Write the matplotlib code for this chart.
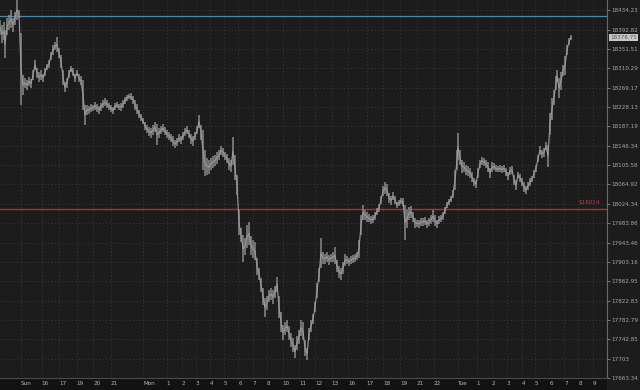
import matplotlib
matplotlib.use("Agg")
import matplotlib.pyplot as plt
from matplotlib.patches import Rectangle
import numpy as np

# ---- data ----
bar_x = [0, 2, 4, 5, 7, 9, 11, 13, 15, 17, 19, 21, 23, 25, 27, 29, 31, 33, 35, 37, 39, 41, 43, 45, 47, 49,
         51, 53, 55, 57, 59, 61, 63, 65, 67, 69, 71, 73, 75, 77, 79, 81, 83, 85, 87, 89, 91, 93, 95, 97, 99,
         101, 103, 105, 107, 109, 111, 113, 115, 117, 119, 121, 123, 125, 127, 129, 131, 133, 135, 137, 139,
         141, 143, 145, 147, 149, 151, 153, 155, 157, 159, 161, 163, 165, 167, 169, 171, 173, 175, 177, 179,
         181, 183, 185, 187, 189, 191, 193, 195, 197, 199, 201, 203, 205, 207, 209, 211, 213, 215, 217, 219,
         221, 223, 225, 227, 229, 231, 233, 235, 237, 239, 241, 243, 245, 247, 249, 251, 253, 255, 257, 259,
         261, 263, 265, 267, 269, 271, 273, 275, 277, 279, 281, 283, 285, 287, 289, 291, 293, 295, 297, 299,
         301, 303, 305, 307, 309, 311, 313, 315, 317, 319, 321, 323, 325, 327, 329, 331, 333, 335, 337, 339,
         341, 343, 345, 347, 349, 351, 353, 355, 357, 359, 361, 363, 365, 367, 369, 371, 373, 375, 377, 379,
         381, 383, 385, 387, 389, 391, 393, 395, 397, 399, 401, 403, 405, 407, 409, 411, 413, 415, 417, 419,
         421, 423, 425, 427, 429, 431, 433, 435, 437, 439, 441, 443, 445, 447, 449, 451, 453, 455, 457, 458,
         460, 462, 464, 466, 468, 470, 472, 474, 476, 478, 480, 482, 484, 486, 488, 490, 492, 494, 496, 498,
         500, 502, 504, 506, 508, 510, 512, 514, 516, 518, 520, 522, 524, 526, 528, 530, 532, 534, 536, 538,
         540, 542, 544, 546, 548, 550, 552, 554, 556, 557, 559, 561, 563, 565, 567, 569, 571]

bar_high = [18414, 18403, 18409, 18392, 18418, 18424, 18435, 18418, 18431, 18456, 18435, 18386, 18296, 18290,
            18285, 18292, 18287, 18307, 18328, 18311, 18303, 18307, 18298, 18311, 18320, 18328, 18345, 18360,
            18366, 18377, 18354, 18339, 18307, 18281, 18290, 18307, 18315, 18311, 18298, 18307, 18298, 18294,
            18285, 18233, 18233, 18230, 18235, 18233, 18239, 18235, 18230, 18237, 18243, 18247, 18243, 18237,
            18233, 18228, 18237, 18239, 18235, 18237, 18243, 18249, 18254, 18256, 18258, 18252, 18243, 18235,
            18222, 18214, 18205, 18197, 18190, 18186, 18184, 18190, 18197, 18192, 18184, 18188, 18192, 18186,
            18180, 18175, 18171, 18167, 18159, 18163, 18171, 18167, 18175, 18184, 18188, 18180, 18171, 18167,
            18175, 18188, 18211, 18190, 18180, 18137, 18121, 18116, 18121, 18125, 18127, 18133, 18137, 18146,
            18142, 18133, 18129, 18121, 18116, 18165, 18127, 18085, 18011, 17974, 17959, 17953, 17980, 17986,
            17957, 17949, 17945, 17911, 17891, 17870, 17849, 17828, 17832, 17845, 17849, 17845, 17853, 17872,
            17832, 17799, 17772, 17779, 17783, 17770, 17756, 17746, 17731, 17750, 17762, 17783, 17779, 17741,
            17725, 17766, 17783, 17795, 17820, 17859, 17891, 17953, 17924, 17920, 17924, 17918, 17920, 17924,
            17934, 17907, 17895, 17891, 17903, 17920, 17915, 17911, 17915, 17918, 17920, 17924, 17949, 18001,
            18022, 18011, 18007, 18003, 17999, 18001, 18007, 18016, 18024, 18041, 18062, 18070, 18066, 18047,
            18041, 18049, 18041, 18028, 18032, 18037, 18037, 18022, 18011, 18018, 18020, 18007, 17995, 17991,
            17991, 17995, 17995, 17997, 17991, 17995, 18001, 18011, 18001, 17991, 17999, 18001, 18007, 18018,
            18028, 18035, 18041, 18053, 18095, 18137, 18173, 18137, 18116, 18112, 18106, 18104, 18100, 18091,
            18078, 18074, 18100, 18116, 18123, 18121, 18116, 18112, 18100, 18112, 18110, 18106, 18104, 18106,
            18104, 18106, 18100, 18091, 18102, 18104, 18085, 18074, 18091, 18087, 18078, 18070, 18062, 18070,
            18078, 18083, 18095, 18106, 18127, 18146, 18137, 18142, 18154, 18148, 18216, 18247, 18264, 18294,
            18307, 18290, 18303, 18317, 18337, 18360, 18375, 18381]

bar_low = [18381, 18364, 18371, 18332, 18381, 18392, 18396, 18388, 18403, 18414, 18418, 18233, 18254, 18269,
           18264, 18273, 18269, 18285, 18307, 18290, 18281, 18285, 18281, 18294, 18307, 18311, 18328, 18339,
           18349, 18345, 18332, 18311, 18275, 18260, 18269, 18290, 18303, 18294, 18281, 18294, 18281, 18275,
           18222, 18190, 18211, 18214, 18218, 18220, 18222, 18218, 18214, 18220, 18226, 18230, 18226, 18222,
           18218, 18214, 18222, 18226, 18222, 18220, 18226, 18235, 18241, 18245, 18243, 18235, 18222, 18214,
           18205, 18199, 18192, 18180, 18173, 18167, 18163, 18169, 18175, 18148, 18163, 18171, 18175, 18169,
           18163, 18159, 18154, 18146, 18142, 18146, 18154, 18150, 18159, 18167, 18171, 18163, 18150, 18146,
           18159, 18171, 18184, 18159, 18095, 18083, 18085, 18087, 18095, 18100, 18104, 18108, 18116, 18127,
           18123, 18116, 18110, 18095, 18091, 18106, 18074, 18043, 17959, 17945, 17903, 17918, 17932, 17938,
           17918, 17911, 17907, 17876, 17866, 17841, 17814, 17789, 17803, 17820, 17824, 17816, 17828, 17841,
           17787, 17758, 17741, 17752, 17758, 17741, 17727, 17716, 17704, 17721, 17733, 17750, 17741, 17708,
           17700, 17741, 17758, 17774, 17799, 17828, 17861, 17891, 17899, 17899, 17903, 17897, 17903, 17903,
           17899, 17882, 17870, 17866, 17878, 17895, 17899, 17895, 17899, 17901, 17903, 17907, 17911, 17959,
           17991, 17991, 17986, 17986, 17982, 17984, 17991, 18001, 18007, 18024, 18041, 18045, 18041, 18026,
           18022, 18032, 18024, 18016, 18020, 18024, 18020, 17949, 17974, 17991, 17995, 17986, 17974, 17976,
           17974, 17978, 17978, 17980, 17974, 17978, 17982, 17986, 17978, 17974, 17982, 17986, 17991, 18003,
           18016, 18022, 18028, 18037, 18053, 18095, 18116, 18106, 18089, 18091, 18085, 18083, 18078, 18070,
           18062, 18058, 18078, 18100, 18106, 18104, 18100, 18091, 18078, 18091, 18095, 18091, 18091, 18091,
           18089, 18091, 18083, 18074, 18085, 18087, 18064, 18053, 18078, 18070, 18062, 18049, 18045, 18053,
           18062, 18070, 18078, 18091, 18112, 18127, 18121, 18123, 18137, 18102, 18169, 18201, 18233, 18264,
           18281, 18247, 18264, 18294, 18296, 18339, 18360, 18371]

last_price = 18376.75
upper_level = 18422
support_level = 18014
support_label = "$18014"

y_ticks = [17663.34, 17703, 17742.85, 17782.79, 17822.83, 17862.95, 17903.16, 17943.46, 17983.86,
           18024.34, 18064.92, 18105.58, 18146.34, 18187.19, 18228.13, 18269.17, 18310.29, 18351.51,
           18392.82, 18434.23]
y_tick_labels = ["17663.34", "17703", "17742.85", "17782.79", "17822.83", "17862.95", "17903.16",
                 "17943.46", "17983.86", "18024.34", "18064.92", "18105.58", "18146.34", "18187.19",
                 "18228.13", "18269.17", "18310.29", "18351.51", "18392.82", "18434.23"]

x_tick_pos = [20.7, 41.7, 59.3, 76.7, 93.3, 110.7, 143.3, 166.7, 181.7, 196, 210, 224, 238.3, 252.7,
              266.7, 282.7, 299.3, 315, 331.7, 348.3, 366.7, 383.3, 400, 416.7, 434, 458.3, 476.7,
              491.7, 506.7, 521.7, 535, 550, 564.3, 578.3, 592.7]
x_tick_labels = ["Sun", "16", "17", "19", "20", "21", "Mon", "1", "2", "3", "4", "5", "6", "7", "8",
                 "10", "11", "12", "13", "16", "17", "18", "19", "21", "22", "Tue", "1", "2", "3", "4",
                 "5", "6", "7", "8", "9"]

FS = 4.1

# ---- figure ----
W, H = 640, 390
fig = plt.figure(figsize=(6.4, 3.9), dpi=100, facecolor="#1c1c1c")
# darker strip under the plot for the time labels (drawn beneath the axes)
fig.patches.append(Rectangle((0, 0), 607 / W, 12 / H, transform=fig.transFigure,
                             facecolor="#121212", edgecolor="none", zorder=-5))
ax = fig.add_axes([0, 12 / H, 607 / W, 378 / H])
ax.set_facecolor("#1c1c1c")

ax.set_yscale("log")
ax.set_ylim(17663.34, 18456.3)
ax.set_xlim(0, 607)

# grid
ax.set_yticks(y_ticks)
ax.set_yticklabels(y_tick_labels)
ax.yaxis.set_minor_locator(matplotlib.ticker.NullLocator())
ax.set_xticks(x_tick_pos)
ax.set_xticklabels(x_tick_labels)
ax.grid(True, color="#3a3a3a", linestyle=(0, (1, 2.5)), linewidth=0.7)
ax.set_axisbelow(True)

ax.yaxis.tick_right()
ax.tick_params(axis="y", which="major", direction="out", length=2.0, width=0.6, color="#888888",
               labelsize=FS, labelcolor="#a8a8a8", pad=1.2)
ax.tick_params(axis="x", length=0, labelsize=FS, labelcolor="#b8b8b8", pad=2.4)
for lab in ax.get_xticklabels():
    lab.set_horizontalalignment("left")

for side in ["top", "left"]:
    ax.spines[side].set_visible(False)
ax.spines["right"].set_color("#6a6a6a")
ax.spines["right"].set_linewidth(0.8)
ax.spines["bottom"].set_color("#4a4a4a")
ax.spines["bottom"].set_linewidth(0.8)

# price bars
bx = np.array(bar_x, dtype=float)
bh = np.array(bar_high, dtype=float)
bl = np.array(bar_low, dtype=float)
ax.vlines(bx, bl, bh, color="#8a8a8a", linewidth=1.1, zorder=3)
ax.plot(bx, (bh + bl) / 2, color="#9a9a9a", linewidth=0.8, zorder=4)

# levels
ax.axhline(upper_level, color="#4f86ad", linewidth=0.9, zorder=2)
ax.axhline(support_level, color="#c62828", linewidth=1.0, zorder=2)
ax.text(600, support_level * 1.0004, support_label, color="#d23a3a", fontsize=FS,
        ha="right", va="bottom", zorder=5)

# last price tag
ax.annotate(f"{last_price:.2f}", xy=(1.0, last_price), xycoords=("axes fraction", "data"),
            xytext=(2.2, 0), textcoords="offset points", fontsize=FS, color="#505050",
            va="center", ha="left",
            bbox=dict(boxstyle="square,pad=0.15", facecolor="#c8c8c8", edgecolor="none"),
            annotation_clip=False, zorder=6)

fig.savefig("out.png", dpi=100, facecolor=fig.get_facecolor())
